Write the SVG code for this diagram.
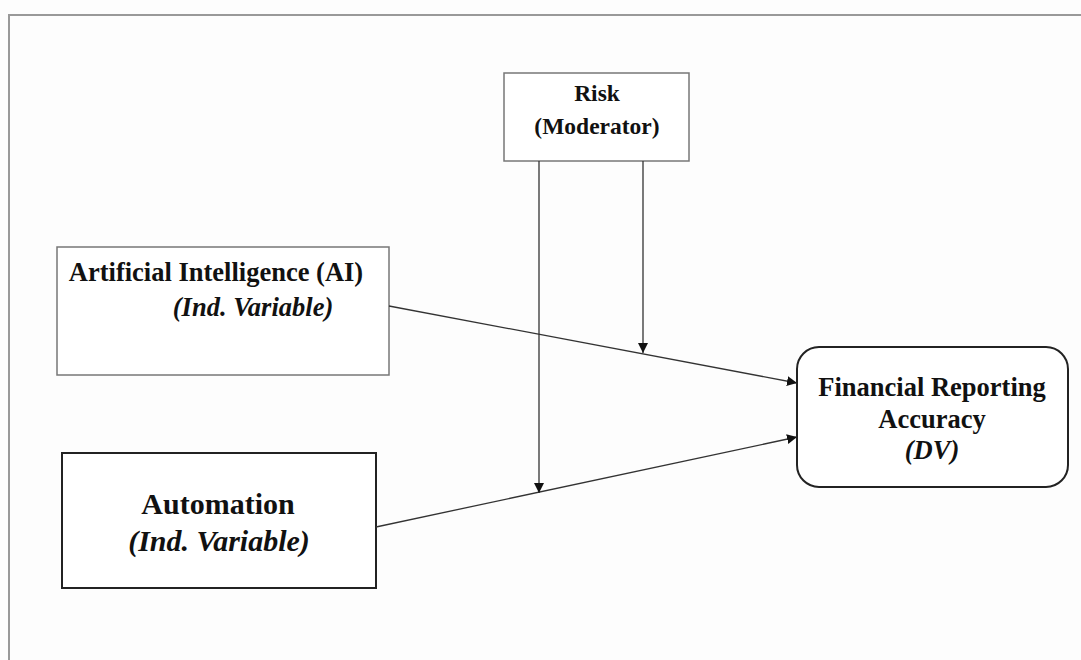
<svg xmlns="http://www.w3.org/2000/svg" width="1081" height="660" viewBox="0 0 1081 660">
<defs>
<marker id="arr" viewBox="0 0 10 10" refX="10" refY="5" markerWidth="10" markerHeight="10" markerUnits="userSpaceOnUse" orient="auto">
<path d="M0,0 L10,5 L0,10 z" fill="#111"/>
</marker>
<style>
.t{font-family:"Liberation Serif","Times New Roman",serif;font-weight:bold;fill:#111;text-anchor:middle}
.i{font-style:italic}
.box{fill:#fff;stroke:#777;stroke-width:1.5}
.conn{stroke:#333;stroke-width:1.3;fill:none}
</style>
</defs>
<rect width="1081" height="660" fill="#fdfdfd"/>
<g id="frame" stroke="#999" stroke-width="2" fill="none">
<path d="M9,660 L9,15 L1081,15"/>
</g>
<g id="risk">
<rect class="box" x="504" y="73" width="185" height="88"/>
<text class="t" x="597" y="101" font-size="23.5">Risk</text>
<text class="t" x="597" y="134" font-size="23.5">(Moderator)</text>
</g>
<g id="ai">
<rect class="box" x="57" y="247" width="332" height="128"/>
<text class="t" x="216" y="281" font-size="26.5">Artificial Intelligence (AI)</text>
<text class="t i" x="253" y="316" font-size="26.5">(Ind. Variable)</text>
</g>
<g id="automation">
<rect x="62" y="453" width="314" height="135" fill="#fff" stroke="#222" stroke-width="2"/>
<text class="t" x="218" y="514" font-size="30">Automation</text>
<text class="t i" x="219" y="551" font-size="30">(Ind. Variable)</text>
</g>
<g id="dv">
<rect x="797" y="347" width="271" height="140" rx="22" ry="22" fill="#fff" stroke="#222" stroke-width="2"/>
<text class="t" x="932" y="396" font-size="26.5">Financial Reporting</text>
<text class="t" x="932" y="428" font-size="26.5">Accuracy</text>
<text class="t i" x="932" y="459" font-size="26.5">(DV)</text>
</g>
<g id="connectors">
<line class="conn" x1="389" y1="306" x2="797" y2="383" marker-end="url(#arr)"/>
<line class="conn" x1="376" y1="527" x2="797" y2="437" marker-end="url(#arr)"/>
<line class="conn" x1="539" y1="161" x2="539" y2="493" stroke="#555" marker-end="url(#arr)"/>
<line class="conn" x1="643" y1="161" x2="643" y2="353" stroke="#555" marker-end="url(#arr)"/>
</g>
</svg>
